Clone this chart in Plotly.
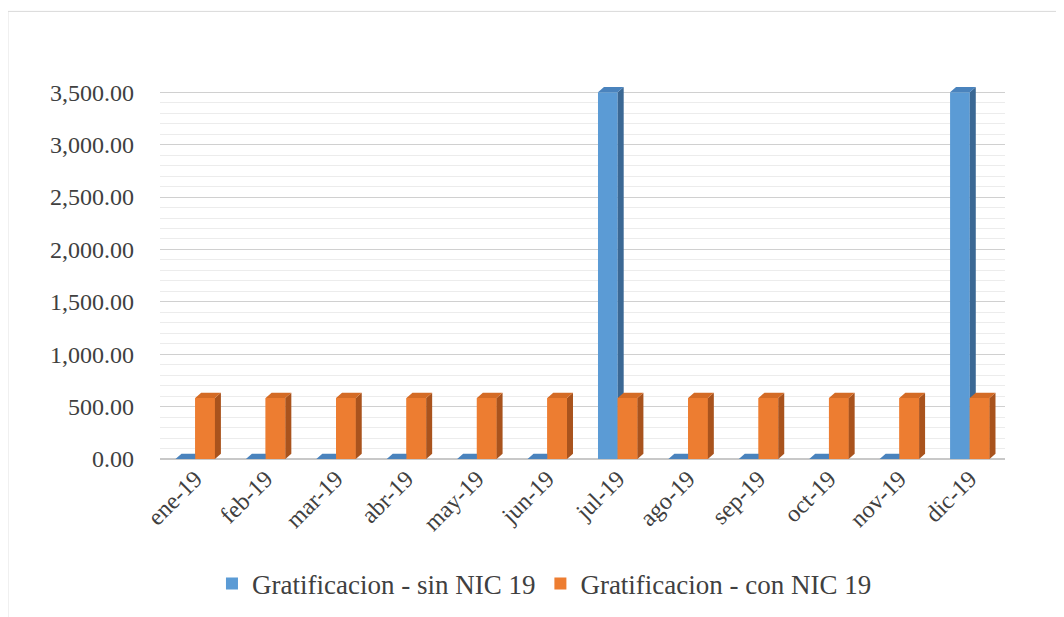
import plotly.graph_objects as go

# Data
months = ["ene-19", "feb-19", "mar-19", "abr-19", "may-19", "jun-19",
          "jul-19", "ago-19", "sep-19", "oct-19", "nov-19", "dic-19"]
sin_nic = [0, 0, 0, 0, 0, 0, 3500, 0, 0, 0, 0, 3500]
con_nic = [583.33] * 12
y_ticks = [0, 500, 1000, 1500, 2000, 2500, 3000, 3500]

FONT = "Liberation Serif, Times New Roman, serif"
BAR_W = 0.28
DX = 0.085   # depth offset in x units
DY = 50      # depth offset in value units

series = [
    dict(name="Gratificacion - sin NIC 19", values=sin_nic, off=-BAR_W / 2,
         front="#5b9bd5", top="#4a83bd", side="#3b6894"),
    dict(name="Gratificacion - con NIC 19", values=con_nic, off=BAR_W / 2,
         front="#ed7d31", top="#d46b25", side="#a9531d"),
]


def faces(values, off):
    """Build top and side polygons for the pseudo-3D columns."""
    tx, ty, sx, sy, fx, fy = [], [], [], [], [], []
    for i, v in enumerate(values):
        x0 = i + off - BAR_W / 2
        x1 = i + off + BAR_W / 2
        tx += [x0, x0 + DX, x1 + DX, x1, x0, None]
        ty += [v, v + DY, v + DY, v, v, None]
        sx += [x1, x1, x1 + DX, x1 + DX, x1, None]
        sy += [0, v, v + DY, DY, 0, None]
        fx += [x0, x0, x1, x1, x0, None]
        fy += [0, v, v, 0, 0, None]
    return tx, ty, sx, sy, fx, fy


fig = go.Figure()
xs = list(range(len(months)))

for s in series:
    fig.add_trace(go.Bar(
        x=[i + s["off"] for i in xs], y=s["values"], width=BAR_W,
        name=s["name"], marker=dict(color=s["front"], line=dict(width=0)),
        hovertemplate="%{y:,.2f}<extra>" + s["name"] + "</extra>",
    ))

for k, s in enumerate(series):
    tx, ty, sx, sy, fx, fy = faces(s["values"], s["off"])
    if k > 0:
        # repaint front so it sits over the previous series' side face
        fig.add_trace(go.Scatter(x=fx, y=fy, fill="toself", mode="none",
                                 fillcolor=s["front"], showlegend=False,
                                 hoverinfo="skip"))
    fig.add_trace(go.Scatter(x=sx, y=sy, fill="toself", mode="none",
                             fillcolor=s["side"], showlegend=False,
                             hoverinfo="skip"))
    fig.add_trace(go.Scatter(x=tx, y=ty, fill="toself", mode="none",
                             fillcolor=s["top"], showlegend=False,
                             hoverinfo="skip"))

fig.update_layout(
    width=1064, height=617,
    margin=dict(l=152, r=67, t=78, b=166),
    paper_bgcolor="white", plot_bgcolor="white",
    font=dict(family=FONT, size=24, color="#404040"),
    barmode="overlay",
    showlegend=True,
    legend=dict(orientation="h", x=0.455, xanchor="center", y=-0.335,
                yanchor="middle", font=dict(size=27, color="#404040"),
                itemwidth=30, traceorder="normal"),
    shapes=[dict(type="rect", xref="paper", yref="paper",
                 x0=-0.18, x1=1.3, y0=-0.6, y1=1.20,
                 line=dict(color="#d9d9d9", width=1), layer="below")],
)

fig.update_xaxes(
    range=[-0.5, 11.5], tickmode="array", tickvals=xs, ticktext=months,
    tickangle=-45, showgrid=False, zeroline=False, showline=False,
    ticks="", tickfont=dict(size=24),
)

fig.update_yaxes(
    range=[0, 3560], tickmode="array", tickvals=y_ticks,
    ticktext=[f"{v:,.2f}" for v in y_ticks],
    showgrid=True, gridcolor="#d0d0d0", gridwidth=1.3,
    minor=dict(tickvals=list(range(100, 3501, 100)), showgrid=True,
               gridcolor="#ececec", gridwidth=1),
    zeroline=True, zerolinecolor="#c8c8c8", showline=False,
    ticks="", ticklabelstandoff=25, tickfont=dict(size=24),
)

fig.write_html("out.html")
